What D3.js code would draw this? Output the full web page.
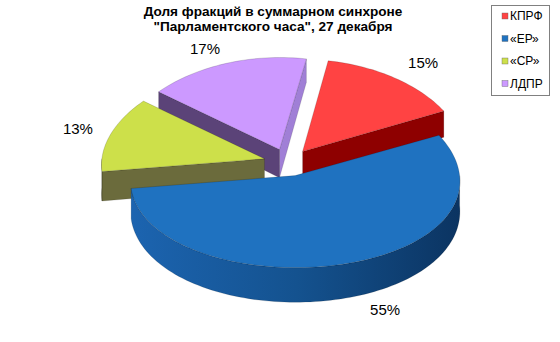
<!DOCTYPE html>
<html>
<head>
<meta charset="utf-8">
<script src="https://cdn.jsdelivr.net/npm/d3@7"></script>
<style>
  body { margin: 0; background: #fff; }
  svg { display: block; font-family: Arial, "Liberation Sans", sans-serif; }
</style>
</head>
<body>
<svg id="chart" width="560" height="342"></svg>
<script>
// данные
var titleLines = ['Доля фракций в суммарном синхроне', '"Парламентского часа", 27 декабря'];
var parties = ['КПРФ', '«ЕР»', '«СР»', 'ЛДПР'];
var shares = [15, 55, 13, 17];
var shareLabels = ['15%', '55%', '13%', '17%'];

var topColors = ['#ff4343', '#1f72c0', '#cde04a', '#cc99ff'];
var wallColors = ['#8e0000', '#15508f', '#6b6b3c', '#5b4378'];
var endWallColors = ['#8e0000', '#15508f', '#6b6b3c', '#a07fd6'];

var svg = d3.select('#chart');

// геометрия псевдо-3D (с лёгкой перспективой)
var cx = 288, cy = 162.4, rx = 163, ry = 92, explode = 0.15;
var d0 = 29, pDepth = 0.17, pWidth = 0.06;
var offset = 10 * Math.PI / 180;
// небольшие сдвиги подписей, как у Excel
var labelShift = [[7, 3], [25, -9], [5, 0], [-9, 7]];

var color = d3.scaleOrdinal(parties, topColors);
var wallColor = d3.scaleOrdinal(parties, wallColors);
var endWallColor = d3.scaleOrdinal(parties, endWallColors);

var pie = d3.pie().sort(null).value(function(d, i) { return shares[i]; })
  .startAngle(offset).endAngle(offset + 2 * Math.PI);
var arcs = pie(parties);

// точка на "полу" относительно центра диаграммы
function g(c, a, k) {
  k = k || 1;
  return [c[0] + rx * k * Math.sin(a), c[1] - ry * k * Math.cos(a)];
}
// проекция на экран, z = 0 сверху, z = 1 снизу
function proj(p, z) {
  return [cx + p[0] * (1 + pWidth * p[1] / ry),
          cy + p[1] + z * d0 * (1 + pDepth * p[1] / ry)];
}
function arcGround(c, a0, a1) {
  var n = Math.max(2, Math.ceil((a1 - a0) / 0.03));
  return d3.range(n + 1).map(function(i) { return g(c, a0 + (a1 - a0) * i / n); });
}
var line = d3.line();

// градиент для передней стенки «ЕР»
var defs = svg.append('defs');
var grad = defs.append('linearGradient').attr('id', 'blueSide')
  .attr('gradientUnits', 'userSpaceOnUse')
  .attr('x1', 130).attr('x2', 465).attr('y1', 0).attr('y2', 0);
grad.append('stop').attr('offset', '0%').attr('stop-color', '#1c64b0');
grad.append('stop').attr('offset', '50%').attr('stop-color', '#14528f');
grad.append('stop').attr('offset', '100%').attr('stop-color', '#0b3360');

var walls = [];
arcs.forEach(function(d) {
  var m = (d.startAngle + d.endAngle) / 2;
  var c = [explode * rx * Math.sin(m), -explode * ry * Math.cos(m)];
  d.center = c;
  d.mid = m;
  // радиальные стенки
  if (Math.sin(d.startAngle) < 0) {
    var p = g(c, d.startAngle);
    walls.push({ pts: [proj(c, 0), proj(p, 0), proj(p, 1), proj(c, 1)],
                 fill: wallColor(d.data), key: (c[1] + p[1]) / 2 });
  }
  if (Math.sin(d.endAngle) > 0) {
    var q = g(c, d.endAngle);
    walls.push({ pts: [proj(c, 0), proj(q, 0), proj(q, 1), proj(c, 1)],
                 fill: endWallColor(d.data), key: (c[1] + q[1]) / 2 });
  }
  // внешняя стенка (передняя часть)
  var a0 = Math.max(d.startAngle, Math.PI / 2), a1 = Math.min(d.endAngle, 3 * Math.PI / 2);
  if (a1 > a0) {
    var ring = arcGround(c, a0, a1);
    var top = ring.map(function(r) { return proj(r, 0); });
    var bottom = ring.map(function(r) { return proj(r, 1); }).reverse();
    walls.push({ pts: top.concat(bottom),
                 fill: d.data === '«ЕР»' ? 'url(#blueSide)' : wallColor(d.data), key: c[1] + ry });
  }
});

walls.sort(function(a, b) { return a.key - b.key; });

svg.append('g').selectAll('path')
  .data(walls)
  .join('path')
  .attr('d', function(w) { return line(w.pts) + 'Z'; })
  .attr('fill', function(w) { return w.fill; })
  .attr('stroke', 'rgba(0,0,0,0.25)')
  .attr('stroke-width', 0.5);

// верхние поверхности
svg.append('g').selectAll('path')
  .data(arcs)
  .join('path')
  .attr('d', function(d) {
    var pts = [d.center].concat(arcGround(d.center, d.startAngle, d.endAngle));
    return line(pts.map(function(p) { return proj(p, 0); })) + 'Z';
  })
  .attr('fill', function(d) { return color(d.data); })
  .attr('stroke', 'rgba(0,0,0,0.3)')
  .attr('stroke-width', 0.5);

// подписи долей
function labelPos(d, i) {
  var p = proj(g(d.center, d.mid, 1.25), 0);
  var drop = d0 * 1.17 * Math.max(0, -Math.cos(d.mid));
  return [p[0] + labelShift[i][0], p[1] + drop + labelShift[i][1]];
}
svg.append('g').selectAll('text')
  .data(arcs)
  .join('text')
  .attr('x', function(d, i) { return labelPos(d, i)[0]; })
  .attr('y', function(d, i) { return labelPos(d, i)[1]; })
  .attr('text-anchor', 'middle')
  .attr('dominant-baseline', 'central')
  .attr('font-size', 15)
  .attr('fill', '#000')
  .text(function(d, i) { return shareLabels[i]; });

// заголовок
svg.append('g').selectAll('text')
  .data(titleLines)
  .join('text')
  .attr('x', 273)
  .attr('y', function(d, i) { return 16 + i * 15; })
  .attr('text-anchor', 'middle')
  .attr('font-size', 13.6)
  .attr('font-weight', 'bold')
  .text(function(d) { return d; });

// легенда
var legend = svg.append('g');
legend.append('rect')
  .attr('x', 491.5).attr('y', 5.5).attr('width', 58).attr('height', 90)
  .attr('fill', '#fff').attr('stroke', '#808080').attr('stroke-width', 1);
var items = legend.selectAll('g')
  .data(parties)
  .join('g')
  .attr('transform', function(d, i) { return 'translate(502,' + (16 + i * 22.5) + ')'; });
items.append('rect')
  .attr('x', 0).attr('y', -3).attr('width', 6).attr('height', 6)
  .attr('fill', function(d) { return color(d); })
  .attr('stroke', '#666').attr('stroke-width', 0.4);
items.append('text')
  .attr('x', 8).attr('y', 0)
  .attr('dominant-baseline', 'central')
  .attr('font-size', 12)
  .text(function(d) { return d; });
</script>
</body>
</html>
